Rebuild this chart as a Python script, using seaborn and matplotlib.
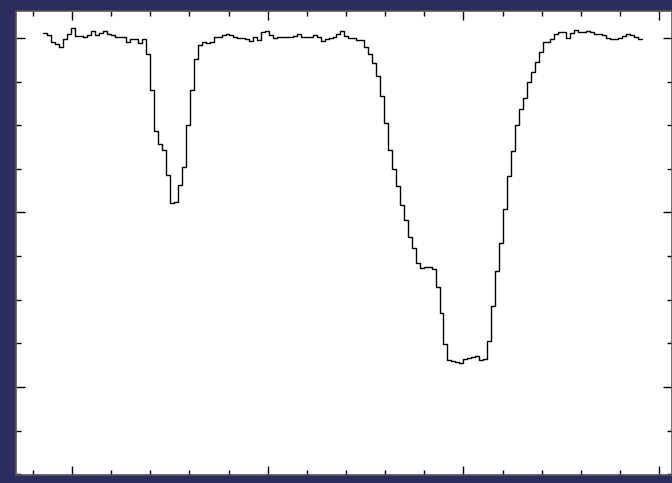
import numpy as np
import seaborn as sns
import matplotlib
matplotlib.use("Agg")
import matplotlib.pyplot as plt
from matplotlib.ticker import MultipleLocator, NullFormatter

# normalised flux per pixel
flux = [
    1.006, 1.003, 0.995, 0.993, 0.990, 0.999, 1.005, 1.011, 1.002, 1.002,
    1.001, 1.003, 1.008, 1.004, 1.006, 1.008, 1.005, 1.003, 1.001, 1.001,
    1.001, 0.996, 0.999, 0.999, 0.994, 0.999, 0.982, 0.940, 0.893, 0.879,
    0.872, 0.843, 0.811, 0.812, 0.832, 0.852, 0.900, 0.940, 0.976, 0.992,
    0.995, 0.994, 0.996, 1.001, 1.001, 1.003, 1.005, 1.003, 1.001, 1.000,
    1.000, 0.999, 0.997, 1.001, 0.998, 1.007, 1.008, 1.003, 1.000, 1.001,
    1.001, 1.001, 1.001, 1.002, 1.005, 1.001, 1.001, 1.001, 1.003, 1.001,
    0.997, 0.999, 1.000, 1.001, 1.005, 1.008, 1.002, 1.000, 1.000, 0.998,
    0.998, 0.990, 0.982, 0.971, 0.956, 0.934, 0.903, 0.872, 0.850, 0.830,
    0.809, 0.791, 0.772, 0.759, 0.742, 0.736, 0.737, 0.738, 0.735, 0.714,
    0.685, 0.649, 0.631, 0.630, 0.629, 0.627, 0.632, 0.633, 0.634, 0.636,
    0.631, 0.632, 0.653, 0.693, 0.733, 0.765, 0.804, 0.842, 0.870, 0.900,
    0.919, 0.931, 0.950, 0.961, 0.972, 0.984, 0.995, 0.995, 0.999, 1.005,
    1.007, 1.007, 1.000, 1.006, 1.009, 1.007, 1.007, 1.008, 1.007, 1.005,
    1.005, 1.003, 1.000, 0.999, 0.999, 1.000, 1.002, 1.005, 1.004, 1.001,
    0.999,
]
wave_start = 6548.53   # left edge of first pixel
wave_step = 0.2025     # pixel width

# pixel edges, last value repeated to close the final step
wave = wave_start + wave_step * np.arange(len(flux) + 1)
flux_plot = flux + [flux[-1]]

sns.set_style("ticks")
fig = plt.figure(figsize=(6.72, 4.83), dpi=100, facecolor="#2d2c60")
ax = fig.add_axes([16 / 672, 8 / 483, 656 / 672, 464 / 483])
ax.set_facecolor("white")

sns.lineplot(x=wave, y=flux_plot, ax=ax, color="black", linewidth=1.0,
             drawstyle="steps-post", estimator=None, sort=False)

ax.set_xlim(6547.14, 6580.66)
ax.set_ylim(0.499, 1.031)

ax.xaxis.set_major_locator(MultipleLocator(10))
ax.xaxis.set_minor_locator(MultipleLocator(2))
ax.yaxis.set_major_locator(MultipleLocator(0.2))
ax.yaxis.set_minor_locator(MultipleLocator(0.05))
for axis in (ax.xaxis, ax.yaxis):
    axis.set_major_formatter(NullFormatter())
    axis.set_minor_formatter(NullFormatter())

ax.tick_params(which="both", direction="in", top=True, right=True,
               color="black", width=1.0)
ax.tick_params(which="major", length=6.5)
ax.tick_params(which="minor", length=3.5)
ax.set_xlabel("")
ax.set_ylabel("")

for sp in ax.spines.values():
    sp.set_visible(True)
    sp.set_color("#555555")
    sp.set_linewidth(1.2)

fig.savefig("out.png", dpi=100, facecolor=fig.get_facecolor())
